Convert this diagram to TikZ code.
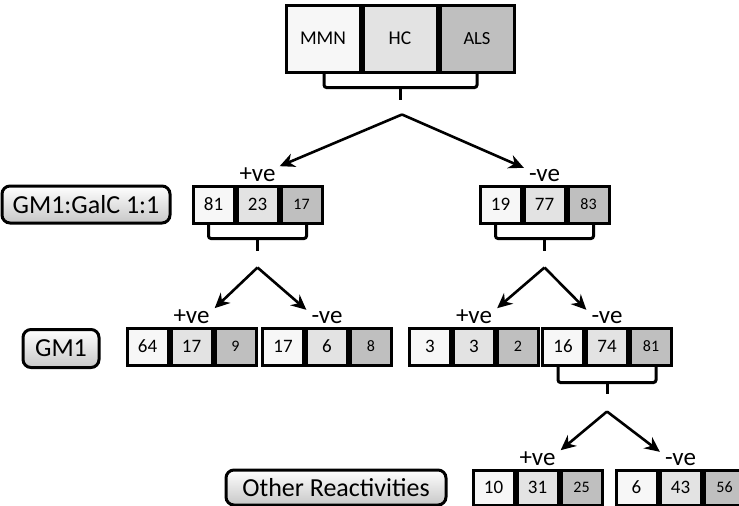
\documentclass[tikz,border=0pt]{standalone}
\usepackage{fontspec}
\setmainfont{Carlito}
\usetikzlibrary{calc}
\usetikzlibrary{positioning}
\usetikzlibrary{arrows.meta}

\definecolor{cellA}{gray}{0.97}
\definecolor{cellB}{gray}{0.89}
\definecolor{cellC}{gray}{0.75}
\definecolor{tagshade}{gray}{0.78}

\begin{document}
\begin{tikzpicture}[%
  x=1pt, y=-1pt,
  >={Stealth[length=15pt,width=14pt]},
  cell/.style={draw, line width=3pt, inner sep=0pt, anchor=north west,
    minimum width=41pt, font=\fontsize{19}{19}\selectfont},
  small/.style={font=\fontsize{16}{16}\selectfont},
  topcell/.style={cell, minimum width=74pt, minimum height=67pt,
    font=\fontsize{19.5}{20}\selectfont},
  tag/.style={draw, line width=3pt, rounded corners=8pt, top color=white,
    bottom color=tagshade, inner sep=0pt, font=\fontsize{26}{26}\selectfont},
  sign/.style={inner sep=1pt, font=\fontsize{25}{25}\selectfont},
  bracket/.style={line width=3pt, rounded corners=2.5pt},
  link/.style={line width=2.6pt, ->},
]

  \useasboundingbox (0,0) rectangle (739,506);

  \node[topcell, fill=cellA] (T-a) at (284.5,3.5) {MMN};
  \node[topcell, fill=cellB] (T-b) at (T-a.north east) {HC};
  \node[topcell, fill=cellC, font=\fontsize{18.5}{19}\selectfont] (T-c) at (T-b.north east) {ALS};

  \foreach \n/\x/\y/\h/\a/\b/\c in {
    L/191.5/184.5/37/81/23/17, R/478.5/184.5/37/19/77/83,
    LP/125.5/326.5/37/64/17/9, LN/261/326.5/37/17/6/8,
    RP/408/326.5/37/3/3/2, RN/541/326.5/37/16/74/81,
    OP/471.5/468.5/35/10/31/25, ON/614.5/468.5/35/6/43/56}
  {
    \node[cell, minimum height=\h pt, fill=cellA] (\n-a) at (\x,\y) {\a};
    \node[cell, minimum height=\h pt, fill=cellB] (\n-b) at (\n-a.north east) {\b};
    \node[cell, minimum height=\h pt, fill=cellC, small] (\n-c) at (\n-b.north east) {\c};
  }

  \node[tag, minimum width=168pt, minimum height=37pt, left=20pt of L-a] (galc) {GM1:GalC 1:1};
  \node[tag, minimum width=76pt, minimum height=38pt, left=25pt of LP-a, yshift=-2pt] (gm) {GM1};
  \node[tag, minimum width=220pt, minimum height=35pt, left=24pt of OP-a] (other) {Other Reactivities};

  \node[sign, above=2pt of L-b] (L-s) {+ve};
  \node[sign, above=2pt of R-b] (R-s) {-ve};
  \node[sign, above=2pt of LP-b] (LP-s) {+ve};
  \node[sign, above=2pt of LN-b] (LN-s) {-ve};
  \node[sign, above=2pt of RP-b] (RP-s) {+ve};
  \node[sign, above=2pt of RN-b] (RN-s) {-ve};
  \node[sign, above=2pt of OP-b] (OP-s) {+ve};
  \node[sign, above=2pt of ON-b] (ON-s) {-ve};

  \draw[bracket] ([xshift=1pt]T-a.south) -- ++(0,14) -| (T-c.south);
  \draw[bracket] (T-b.south) ++(0,14) -- ++(0,12) coordinate (T-stem);
  \coordinate (T-apex) at ($(T-stem)+(2,15)$);

  \draw[bracket] ([xshift=-5pt]L-a.south) -- ++(0,14) -| ([xshift=5pt]L-c.south);
  \draw[bracket] (L-b.south) ++(0,14) -- ++(0,12) coordinate (L-stem);
  \coordinate (L-apex) at ($(L-stem)+(0,17)$);

  \draw[bracket] ([xshift=-5pt]R-a.south) -- ++(0,14) -| ([xshift=5pt]R-c.south);
  \draw[bracket] (R-b.south) ++(0,14) -- ++(0,12) coordinate (R-stem);
  \coordinate (R-apex) at ($(R-stem)+(0,17)$);

  \draw[bracket] ([xshift=-5pt]RN-a.south) -- ++(0,16) -| ([xshift=5pt]RN-c.south);
  \draw[bracket] (RN-b.south) ++(0,16) -- ++(0,11) coordinate (RN-stem);
  \coordinate (RN-apex) at ($(RN-stem)+(0,18)$);

  \draw[link] (T-apex) -- ([xshift=3pt]L-s.north east);
  \draw[link] (T-apex) -- ([xshift=-4pt]R-s.north west);
  \draw[link] (L-apex) -- ([xshift=4pt]LP-s.north east);
  \draw[link] (L-apex) -- ([xshift=-4pt]LN-s.north west);
  \draw[link] (R-apex) -- ([xshift=4pt]RP-s.north east);
  \draw[link] (R-apex) -- ([xshift=-4pt]RN-s.north west);
  \draw[link] (RN-apex) -- ([xshift=4pt]OP-s.north east);
  \draw[link] (RN-apex) -- ([xshift=-4pt]ON-s.north west);

\end{tikzpicture}
\end{document}
